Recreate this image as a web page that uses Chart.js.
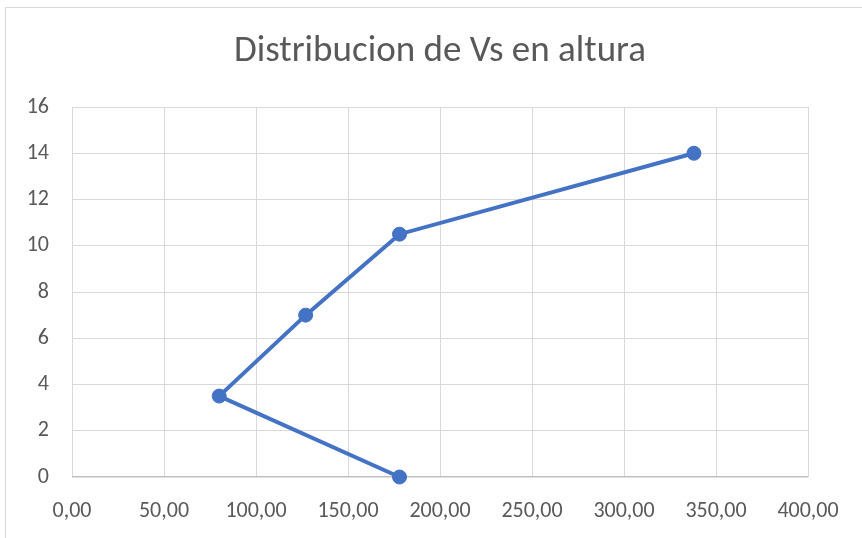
<!DOCTYPE html>
<html>
<head>
<meta charset="utf-8">
<script src="https://cdn.jsdelivr.net/npm/chart.js@4.4.1/dist/chart.umd.min.js"></script>
<style>
  html, body { margin: 0; padding: 0; background: #fff; }
  #wrap { position: relative; width: 862px; height: 538px; }
  #frame { position: absolute; left: 5px; top: 7px; right: -2px; bottom: -2px; border-top: 1px solid #d9d9d9; border-left: 1px solid #d9d9d9; }
  canvas { position: absolute; left: 0; top: 0; }
</style>
</head>
<body>
<div id="wrap">
  <div id="frame"></div>
  <canvas id="chart" width="862" height="538"></canvas>
</div>
<script>
// Vs (m/s) vs altura (m)
const vsValues = [178, 80, 127, 178, 338];
const heights = [0, 3.5, 7, 10.5, 14];
const titleText = 'Distribucion de Vs en altura';

const points = vsValues.map((v, i) => ({ x: v, y: heights[i] }));
const font = "Carlito, Calibri, 'Open Sans', 'Liberation Sans', sans-serif";

// title is centred on the whole frame, not on the padded layout box
const titlePlugin = {
  id: 'frameTitle',
  afterDraw(chart) {
    const c = chart.ctx;
    c.save();
    c.fillStyle = '#595959';
    c.font = '37px ' + font;
    c.textAlign = 'center';
    c.textBaseline = 'middle';
    c.fillText(titleText, 440, 52);
    c.restore();
  }
};

new Chart(document.getElementById('chart').getContext('2d'), {
  type: 'scatter',
  data: {
    datasets: [{
      data: points,
      showLine: true,
      clip: false,
      borderColor: '#4472C4',
      backgroundColor: '#4472C4',
      borderWidth: 4,
      pointRadius: 7,
      pointHoverRadius: 7,
      pointBorderWidth: 1,
      tension: 0
    }]
  },
  options: {
    responsive: false,
    animation: false,
    layout: { padding: { left: 0, right: 54, top: 107, bottom: 0 } },
    plugins: {
      legend: { display: false },
      tooltip: { enabled: false },
      title: { display: false }
    },
    scales: {
      x: {
        type: 'linear',
        min: 0, max: 400,
        ticks: {
          stepSize: 50,
          color: '#595959',
          font: { family: font, size: 22 },
          padding: 21,
          callback: v => v.toFixed(2).replace('.', ',')
        },
        grid: {
          color: '#d9d9d9',
          lineWidth: 1,
          drawTicks: false
        },
        border: { display: false },
        afterFit: s => { s.height = 61; }
      },
      y: {
        type: 'linear',
        min: 0, max: 16,
        ticks: {
          stepSize: 2,
          color: '#595959',
          font: { family: font, size: 22 },
          padding: 23
        },
        grid: {
          color: ctx => ctx.tick && ctx.tick.value === 0 ? '#bfbfbf' : '#d9d9d9',
          lineWidth: ctx => ctx.tick && ctx.tick.value === 0 ? 1.5 : 1,
          drawTicks: false
        },
        border: { display: false },
        afterFit: s => { s.width = 72; }
      }
    }
  },
  plugins: [titlePlugin]
});
</script>
</body>
</html>
